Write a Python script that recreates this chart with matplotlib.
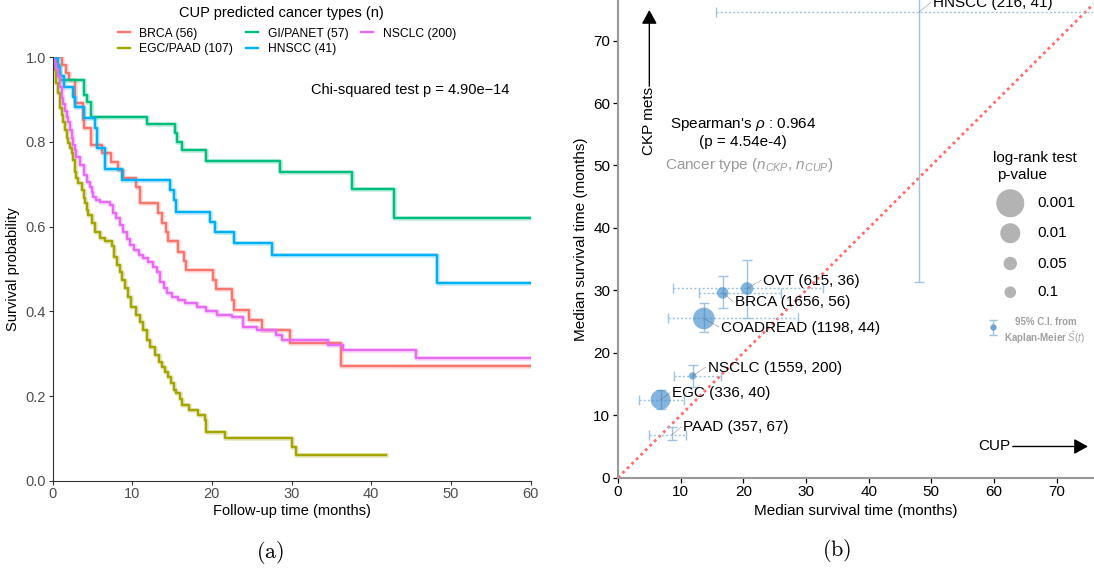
import numpy as np
import matplotlib
matplotlib.use("Agg")
import matplotlib.pyplot as plt

# ---------------- data: Kaplan-Meier curves (panel a) ----------------
km_groups = ["BRCA (56)", "EGC/PAAD (107)", "GI/PANET (57)", "HNSCC (41)", "NSCLC (200)"]
km_colors = ["#F8766D", "#A3A500", "#00BF7D", "#00B0F6", "#E76BF3"]

brca_t = [0, 1.15, 1.7, 2.1, 2.8, 3.8, 4.0, 4.8, 6.2, 7.3, 8.2, 8.9, 10.5, 11.0, 13.2, 13.8,
          14.3, 14.5, 15.8, 16.5, 16.7, 20.2, 20.5, 22.5, 22.8, 24.7, 26.3, 29.8, 36.2, 60]
brca_s = [1.0, 0.982, 0.964, 0.946, 0.893, 0.852, 0.832, 0.793, 0.773, 0.753, 0.734, 0.714, 0.693,
          0.655, 0.632, 0.608, 0.588, 0.565, 0.541, 0.519, 0.497, 0.474, 0.452, 0.427, 0.403, 0.380,
          0.356, 0.326, 0.272, 0.272]

egc_t = [0, 0.1, 0.3, 0.5, 0.7, 0.9, 1.15, 1.35, 1.55, 1.8, 2.0, 2.2, 2.4, 2.6, 2.8, 3.0, 3.25,
         3.65, 3.9, 4.1, 4.3, 4.5, 4.9, 5.3, 5.9, 6.6, 7.5, 7.7, 8.05, 8.5, 8.7, 9.1, 9.5, 9.9,
         10.5, 11.0, 11.4, 11.8, 12.2, 12.9, 13.3, 13.7, 14.1, 14.5, 14.9, 15.2, 15.5, 16.0, 16.3,
         17.1, 18.2, 19.1, 19.3, 21.6, 30.1, 30.5, 41.8]
egc_s = [1.0, 0.99, 0.97, 0.94, 0.915, 0.88, 0.864, 0.848, 0.828, 0.809, 0.797, 0.785, 0.773,
         0.757, 0.730, 0.714, 0.702, 0.687, 0.667, 0.655, 0.639, 0.628, 0.608, 0.588, 0.574, 0.565,
         0.555, 0.529, 0.509, 0.494, 0.474, 0.454, 0.435, 0.411, 0.391, 0.375, 0.356, 0.332, 0.316,
         0.297, 0.281, 0.269, 0.257, 0.246, 0.230, 0.214, 0.206, 0.192, 0.178, 0.167, 0.155, 0.143,
         0.116, 0.100, 0.080, 0.061, 0.061]

gi_t = [0, 0.5, 0.8, 1.0, 4.0, 4.3, 4.8, 11.8, 15.4, 15.6, 16.2, 19.2, 28.5, 37.6, 42.8, 60]
gi_s = [1.0, 0.982, 0.965, 0.947, 0.912, 0.895, 0.860, 0.842, 0.822, 0.800, 0.780, 0.756, 0.728,
        0.688, 0.620, 0.620]

hnscc_t = [0, 0.7, 0.9, 1.4, 2.6, 2.8, 3.9, 5.3, 5.6, 6.6, 8.7, 14.7, 15.2, 15.5, 19.7, 20.4,
           22.8, 27.5, 48.2, 60]
hnscc_s = [1.0, 0.976, 0.956, 0.931, 0.907, 0.882, 0.856, 0.832, 0.785, 0.736, 0.710, 0.687,
           0.663, 0.635, 0.612, 0.588, 0.562, 0.533, 0.467, 0.467]

nsclc_t = [0, 0.1, 0.3, 0.5, 0.7, 0.9, 1.15, 1.35, 1.55, 1.8, 2.0, 2.2, 2.4, 2.6, 2.8, 3.0, 3.45,
           3.9, 4.3, 4.7, 4.9, 5.1, 5.5, 6.0, 7.2, 7.6, 8.0, 8.5, 8.9, 9.3, 9.7, 10.2, 10.8, 11.4,
           12.0, 12.6, 13.1, 13.5, 14.0, 14.4, 15.0, 15.8, 16.6, 18.1, 19.3, 20.6, 22.5, 23.9, 25.7,
           28.1, 28.8, 34.6, 36.4, 45.6, 60]
nsclc_s = [1.0, 0.994, 0.985, 0.972, 0.955, 0.93, 0.905, 0.89, 0.872, 0.86, 0.848, 0.828, 0.809,
           0.793, 0.781, 0.765, 0.746, 0.722, 0.706, 0.694, 0.683, 0.671, 0.663, 0.659, 0.650, 0.632,
           0.620, 0.604, 0.588, 0.572, 0.557, 0.545, 0.533, 0.525, 0.517, 0.505, 0.494, 0.470, 0.455,
           0.443, 0.435, 0.427, 0.419, 0.411, 0.401, 0.391, 0.387, 0.364, 0.356, 0.344, 0.332, 0.320,
           0.308, 0.289, 0.289]

km_times = [brca_t, egc_t, gi_t, hnscc_t, nsclc_t]
km_surv = [brca_s, egc_s, gi_s, hnscc_s, nsclc_s]

# ---------------- data: median survival comparison (panel b) ----------------
types = ["OVT", "BRCA", "COADREAD", "NSCLC", "EGC", "PAAD", "HNSCC"]
n_ckp = [615, 1656, 1198, 1559, 336, 357, 216]
n_cup = [36, 56, 44, 200, 40, 67, 41]
cup_median = [20.6, 16.7, 13.7, 11.9, 6.8, 8.6, 48.1]
cup_lo = [8.85, 13.0, 8.0, 9.0, 3.3, 5.0, 15.6]
cup_hi = [32.75, 26.0, 28.8, 16.4, 10.5, 10.8, 100.0]
ckp_median = [30.3, 29.6, 25.5, 16.3, 12.5, 6.9, 74.6]
ckp_lo = [25.6, 27.1, 23.4, 14.6, 11.0, 6.0, 31.4]
ckp_hi = [34.9, 32.3, 28.0, 18.1, 14.0, 8.1, 100.0]
logrank_p = [0.068, 0.1, 0.0063, 0.23, 0.01, 0.9, 0.95]
legend_p = [0.001, 0.01, 0.05, 0.1]
legend_p_labels = ["0.001", "0.01", "0.05", "0.1"]

# ---------------- style ----------------
plt.rcParams["font.family"] = ["Liberation Sans", "DejaVu Sans"]
plt.rcParams["mathtext.fontset"] = "custom"
plt.rcParams["mathtext.rm"] = "Liberation Sans"
plt.rcParams["mathtext.it"] = "Liberation Sans:italic"
plt.rcParams["mathtext.bf"] = "Liberation Sans:bold"

W, H = 1094, 572
fig = plt.figure(figsize=(W / 100, H / 100), dpi=100)

# ---------------- panel a ----------------
axL = fig.add_axes([52.5 / W, 1 - 480.7 / H, (530.7 - 52.5) / W, (480.7 - 57.3) / H])
handles = []
for lab, col, t, s in zip(km_groups, km_colors, km_times, km_surv):
    axL.step(t, s, where="post", color=col, lw=3.4, alpha=0.25)
    h, = axL.step(t, s, where="post", color=col, lw=1.7, label=lab)
    handles.append(h)
axL.set_xlim(0, 60)
axL.set_ylim(0, 1)
axL.set_xticks(np.arange(0, 61, 10))
axL.set_yticks(np.arange(0, 1.01, 0.2))
axL.set_yticklabels(["0.0", "0.2", "0.4", "0.6", "0.8", "1.0"])
for sp in ["top", "right"]:
    axL.spines[sp].set_visible(False)
for sp in ["left", "bottom"]:
    axL.spines[sp].set_color("#333333")
    axL.spines[sp].set_linewidth(0.8)
axL.tick_params(colors="#333333", labelcolor="#4d4d4d", labelsize=10.5, length=3, width=0.8, pad=1.5)
axL.set_xlabel("Follow-up time (months)", fontsize=10.5, labelpad=2)
axL.set_ylabel("Survival probability", fontsize=10.5, labelpad=4)
axL.text(44.9, 0.923, "Chi-squared test p = 4.90e\u221214", ha="center", va="center", fontsize=10.5)

fig.text(281 / W, 1 - 13 / H, "CUP predicted cancer types (n)", ha="center", va="center",
         fontsize=10.5)
fig.legend(handles=handles, loc="upper center", bbox_to_anchor=(287 / W, 1 - 27.5 / H), ncol=3,
           fontsize=8.7, frameon=False, handlelength=0.95, handletextpad=0.8, columnspacing=1.1,
           labelspacing=0.28, borderpad=0, borderaxespad=0)

# ---------------- panel b ----------------
axR = fig.add_axes([618 / W, 1 - 477.7 / H, (1093 - 618) / W, 477.7 / H])
xmax, ymax = 75.8, 76.5
axR.set_xlim(0, xmax)
axR.set_ylim(0, ymax)
axR.plot([0, 80], [0, 80], ls=(0, (1, 1.3)), color="#ff6b6b", lw=2.0, zorder=1)

eb_col = "#9ec4e3"
cm = np.array(cup_median); km = np.array(ckp_median)
xerr = [cm - np.array(cup_lo), np.array(cup_hi) - cm]
yerr = [km - np.array(ckp_lo), np.array(ckp_hi) - km]
ebx = axR.errorbar(cm, km, xerr=xerr, fmt="none", ecolor=eb_col, elinewidth=1.0, capsize=3.5,
                   capthick=1.0, zorder=2)
for lc in ebx[2]:
    lc.set_linestyle((0, (1.5, 1.5)))
axR.errorbar(cm, km, yerr=yerr, fmt="none", ecolor=eb_col, elinewidth=1.0, capsize=3.5,
             capthick=1.0, zorder=2)

size_logp = [0, 1, 1.3, 2, 3]
size_radius_px = [0, 5.8, 6.7, 10, 14]
def radius(p):
    return np.interp(-np.log10(p), size_logp, size_radius_px)
sizes = [(2 * radius(p) * 0.72) ** 2 for p in logrank_p]
axR.scatter(cm, km, s=sizes, color="#3a87c8", alpha=0.62, edgecolors="none", zorder=3)

label_pos = {"OVT": (23.1, 30.9), "BRCA": (18.7, 27.5), "COADREAD": (16.5, 23.4),
             "NSCLC": (14.3, 17.0), "EGC": (8.6, 12.9), "PAAD": (10.4, 7.4), "HNSCC": (50.2, 75.4)}
for i, name in enumerate(types):
    lx, ly = label_pos[name]
    axR.plot([cm[i], lx - 0.3], [km[i], ly + 0.7], ls=(0, (1, 1)), color="#555555", lw=0.5, zorder=4)
    axR.text(lx, ly, f"{name} ({n_ckp[i]}, {n_cup[i]})", fontsize=11, ha="left", va="baseline",
             zorder=5)

for sp in ["top", "right"]:
    axR.spines[sp].set_visible(False)
for sp in ["left", "bottom"]:
    axR.spines[sp].set_color("#999999")
    axR.spines[sp].set_linewidth(1.5)
axR.set_xticks(np.arange(0, 71, 10))
axR.set_yticks(np.arange(0, 71, 10))
axR.tick_params(colors="black", labelsize=11, length=3.5, width=0.9, pad=2)
axR.set_xlabel("Median survival time (months)", fontsize=11, labelpad=3)
axR.set_ylabel("Median survival time (months)", fontsize=11, labelpad=4)

axR.annotate("", xy=(5, 74.9), xytext=(5, 62.7),
             arrowprops=dict(arrowstyle="-|>,head_length=0.6,head_width=0.33", color="black",
                             lw=1.0, mutation_scale=14, shrinkA=0, shrinkB=0))
axR.text(5, 57.1, "CKP mets", rotation=90, ha="center", va="center", fontsize=11)
axR.annotate("", xy=(75.0, 5.0), xytext=(63.0, 5.0),
             arrowprops=dict(arrowstyle="-|>,head_length=0.6,head_width=0.33", color="black",
                             lw=1.0, mutation_scale=14, shrinkA=0, shrinkB=0))
axR.text(60.0, 5.0, "CUP", ha="center", va="center", fontsize=11)

axR.text(20.0, 56.5, r"Spearman's $\rho$ : 0.964", ha="center", va="center", fontsize=11)
axR.text(20.0, 53.8, "(p = 4.54e-4)", ha="center", va="center", fontsize=11)
axR.text(21.0, 50.1, r"Cancer type ($n_{CKP}$, $n_{CUP}$)", ha="center", va="center",
         fontsize=11, color="#9a9a9a")

# size legend
axR.text(59.8, 51.2, "log-rank test", ha="left", va="center", fontsize=11)
axR.text(60.5, 48.5, "p-value", ha="left", va="center", fontsize=11)
leg_y = [43.95, 39.15, 34.3, 29.7]
axR.scatter([62.6] * 4, leg_y, s=[(2 * radius(p) * 0.72) ** 2 for p in legend_p],
            color="#b3b3b3", edgecolors="none", zorder=3, clip_on=False)
for y, lab in zip(leg_y, legend_p_labels):
    axR.text(67.0, y, lab, ha="left", va="center", fontsize=11)

axR.errorbar([59.8], [24.1], yerr=[[1.2], [1.2]], fmt="o", ms=3.5, color="#6fa3d0", ecolor=eb_col,
             elinewidth=1.0, capsize=3, capthick=1.0, clip_on=False, zorder=3)
axR.text(68.2, 25.0, "95% C.I. from", ha="center", va="center", fontsize=7, color="#a0a0a0",
         fontweight="bold")
axR.text(68.1, 22.5, r"Kaplan-Meier $\hat{S}(t)$", ha="center", va="center", fontsize=7,
         color="#a0a0a0", fontweight="bold")

# captions
fig.text(270 / W, 1 - 553 / H, r"$\mathrm{(a)}$", math_fontfamily="cm", fontsize=16,
         ha="center", va="center")
fig.text(837 / W, 1 - 550 / H, r"$\mathrm{(b)}$", math_fontfamily="cm", fontsize=16,
         ha="center", va="center")

fig.savefig("out.png", dpi=100)
